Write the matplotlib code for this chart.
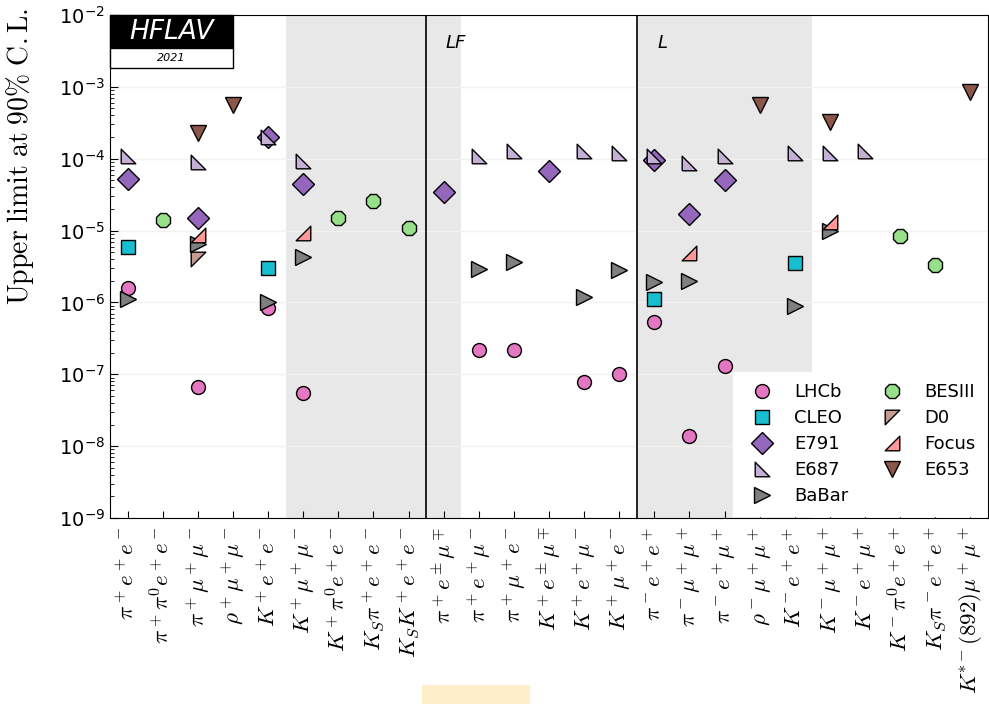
import numpy as np
import matplotlib
matplotlib.use('Agg')
import matplotlib.pyplot as plt
from matplotlib.patches import Rectangle

# decay channels along the x axis
channels = [r'$\pi^+e^+e^-$', r'$\pi^+\pi^0e^+e^-$', r'$\pi^+\mu^+\mu^-$', r'$\rho^+\mu^+\mu^-$',
            r'$K^+e^+e^-$', r'$K^+\mu^+\mu^-$', r'$K^+\pi^0e^+e^-$', r'$K_S\pi^+e^+e^-$',
            r'$K_SK^+e^+e^-$', r'$\pi^+e^\pm\mu^\mp$', r'$\pi^+e^+\mu^-$', r'$\pi^+\mu^+e^-$',
            r'$K^+e^\pm\mu^\mp$', r'$K^+e^+\mu^-$', r'$K^+\mu^+e^-$', r'$\pi^-e^+e^+$',
            r'$\pi^-\mu^+\mu^+$', r'$\pi^-e^+\mu^+$', r'$\rho^-\mu^+\mu^+$', r'$K^-e^+e^+$',
            r'$K^-\mu^+\mu^+$', r'$K^-e^+\mu^+$', r'$K^-\pi^0e^+e^+$', r'$K_S\pi^-e^+e^+$',
            r'$K^{*-}(892)\mu^+\mu^+$']

# upper limits per experiment: channel index + value
lhcb_idx = [0, 2, 4, 5, 10, 11, 13, 14, 15, 16, 17]
lhcb_val = [1.6e-6, 6.7e-8, 8.5e-7, 5.5e-8, 2.2e-7, 2.2e-7, 7.7e-8, 1.0e-7, 5.3e-7, 1.4e-8, 1.3e-7]

cleo_idx = [0, 4, 15, 19]
cleo_val = [5.9e-6, 3.0e-6, 1.1e-6, 3.5e-6]

e791_idx = [0, 2, 4, 5, 9, 12, 15, 16, 17]
e791_val = [5.2e-5, 1.5e-5, 2.0e-4, 4.4e-5, 3.4e-5, 6.8e-5, 9.6e-5, 1.7e-5, 5.0e-5]

e687_idx = [0, 2, 4, 5, 10, 11, 13, 14, 15, 16, 17, 19, 20, 21]
e687_val = [1.1e-4, 8.9e-5, 2.0e-4, 9.2e-5, 1.1e-4, 1.3e-4, 1.3e-4, 1.2e-4, 1.1e-4, 8.7e-5,
            1.1e-4, 1.2e-4, 1.2e-4, 1.3e-4]

babar_idx = [0, 2, 4, 5, 10, 11, 13, 14, 15, 16, 19, 20]
babar_val = [1.1e-6, 6.5e-6, 1.0e-6, 4.3e-6, 2.9e-6, 3.6e-6, 1.2e-6, 2.8e-6, 1.9e-6, 2.0e-6,
             9.0e-7, 1.0e-5]

besiii_idx = [1, 6, 7, 8, 22, 23]
besiii_val = [1.4e-5, 1.5e-5, 2.6e-5, 1.1e-5, 8.5e-6, 3.3e-6]

d0_idx = [2]
d0_val = [4.0e-6]

focus_idx = [2, 5, 16, 20]
focus_val = [8.8e-6, 9.2e-6, 4.8e-6, 1.3e-5]

e653_idx = [2, 3, 18, 20, 24]
e653_val = [2.3e-4, 5.6e-4, 5.6e-4, 3.2e-4, 8.5e-4]

# right-angle triangle markers
tri_ll = [(-1, -1), (1, -1), (-1, 1), (-1, -1)]
tri_ul = [(-1, 1), (1, 1), (-1, -1), (-1, 1)]
tri_lr = [(1, -1), (1, 1), (-1, -1), (1, -1)]

series = [
    ('LHCb', lhcb_idx, lhcb_val, 'o', '#e377c2', 10),
    ('CLEO', cleo_idx, cleo_val, 's', '#17becf', 10),
    ('E791', e791_idx, e791_val, 'D', '#9467bd', 11),
    ('E687', e687_idx, e687_val, tri_ll, '#c5b0d5', 10.5),
    ('BaBar', babar_idx, babar_val, '>', '#7f7f7f', 11),
    ('BESIII', besiii_idx, besiii_val, '8', '#98df8a', 11),
    ('D0', d0_idx, d0_val, tri_ul, '#c49c94', 10.5),
    ('Focus', focus_idx, focus_val, tri_lr, '#ff9896', 10.5),
    ('E653', e653_idx, e653_val, 'v', '#8c564b', 11),
]

fig = plt.figure(figsize=(9.89, 7.04), dpi=100)
ax = fig.add_axes([0.1112, 0.2642, 0.8878, 0.7145])

ax.axvspan(4.5, 9.5, color='#e8e8e8', zorder=0, lw=0)
ax.axvspan(14.5, 19.5, color='#e8e8e8', zorder=0, lw=0)
ax.axvline(8.5, color='black', lw=1.2, zorder=1)
ax.axvline(14.5, color='black', lw=1.2, zorder=1)

for name, idx, val, mk, col, ms in series:
    ax.plot(idx, val, ls='none', marker=mk, color=col, markersize=ms,
            markeredgecolor='black', markeredgewidth=1.0, label=name, zorder=3)

ax.set_yscale('log')
ax.set_ylim(1e-9, 1e-2)
ax.set_xlim(-0.5, len(channels) - 0.5)
ax.yaxis.grid(True, which='major', color='#f2f2f2', lw=1)
ax.set_axisbelow(True)

ax.set_xticks(range(len(channels)))
ax.set_xticklabels(channels, rotation=90, fontsize=16.5, math_fontfamily='cm')
ax.tick_params(axis='x', direction='in', length=5, pad=6)
ax.tick_params(axis='y', which='both', direction='in', labelsize=14)
ax.tick_params(axis='y', which='major', length=6)
ax.tick_params(axis='y', which='minor', length=3)
ax.set_ylabel(r'$\mathrm{Upper\ limit\ at\ 90\%\ C.L.}$', fontsize=20, math_fontfamily='cm')
ax.yaxis.set_label_coords(-0.084, 0.72)

ax.text(9.05, 0.935, 'LF', transform=ax.get_xaxis_transform(), fontsize=13, style='italic')
ax.text(15.1, 0.935, 'L', transform=ax.get_xaxis_transform(), fontsize=13, style='italic')

# HFLAV badge
ax.add_patch(Rectangle((0, 0.934), 0.14, 0.066, transform=ax.transAxes,
                       facecolor='black', edgecolor='black', zorder=5, clip_on=False))
ax.add_patch(Rectangle((0, 0.895), 0.14, 0.039, transform=ax.transAxes,
                       facecolor='white', edgecolor='black', lw=1, zorder=5, clip_on=False))
ax.text(0.07, 0.967, 'HFLAV', transform=ax.transAxes, color='white', fontsize=19,
        style='italic', ha='center', va='center', zorder=6)
ax.text(0.07, 0.9145, '2021', transform=ax.transAxes, color='black', fontsize=8,
        style='italic', ha='center', va='center', zorder=6)

leg = ax.legend(loc='lower right', ncol=2, fontsize=13, frameon=True, fancybox=False,
                framealpha=1.0, edgecolor='white', borderpad=0.6, columnspacing=1.4,
                handletextpad=0.8, labelspacing=0.45, borderaxespad=0.1)
leg.set_zorder(10)

fig.patches.append(Rectangle((0.4267, 0.0), 0.109, 0.027, transform=fig.transFigure,
                             facecolor='#fdefc9', edgecolor='none'))

fig.savefig('out.png', dpi=100)
